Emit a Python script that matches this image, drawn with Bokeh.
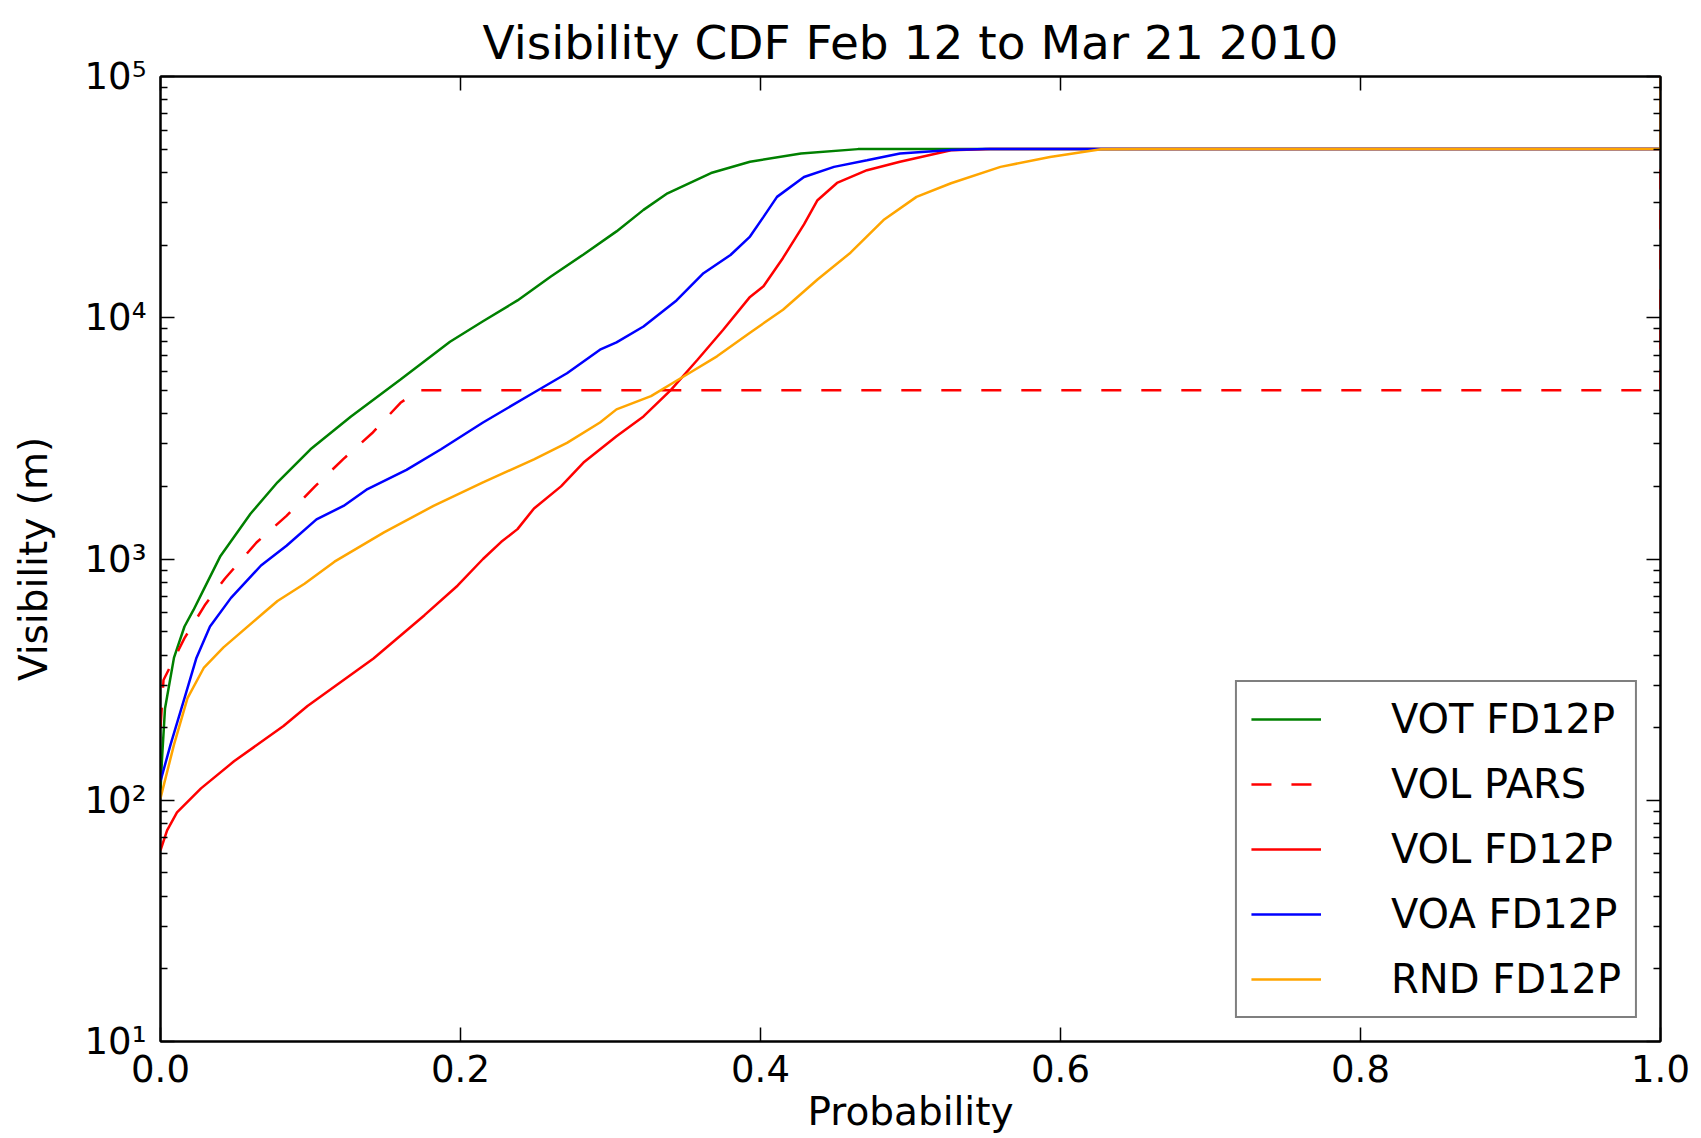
from bokeh.plotting import figure
from bokeh.models import (FixedTicker, LogAxis, LinearAxis, Legend, LegendItem,
                          Range1d, CustomJSTickFormatter, PrintfTickFormatter)
from bokeh.embed import file_html
from bokeh.resources import INLINE

# ---- data ----
title_text = "Visibility CDF Feb 12 to Mar 21 2010"

vot_x = [0.0, 0.001, 0.003, 0.009, 0.016, 0.022, 0.029, 0.040, 0.060, 0.078, 0.100, 0.127, 0.160,
         0.193, 0.215, 0.238, 0.260, 0.282, 0.304, 0.322, 0.338, 0.367, 0.393, 0.427, 0.465, 1.0, 1.0]
vot_y = [110, 148, 240, 390, 525, 615, 752, 1030, 1540, 2080, 2850, 3900, 5550,
         7950, 9670, 11800, 14800, 18300, 22800, 28000, 32800, 39800, 44300, 48000, 50000, 50000, 100000]

pars_x = [0.0, 0.002, 0.016, 0.030, 0.043, 0.064, 0.084, 0.103, 0.122, 0.141, 0.160, 0.172, 1.0, 1.0]
pars_y = [200, 315, 470, 650, 830, 1170, 1510, 2000, 2600, 3320, 4440, 5000, 5000, 50000]

vol_x = [0.0, 0.0044, 0.011, 0.027, 0.049, 0.082, 0.098, 0.142, 0.176, 0.198, 0.215, 0.227, 0.238,
         0.249, 0.267, 0.282, 0.304, 0.322, 0.340, 0.358, 0.375, 0.393, 0.402, 0.415, 0.429, 0.438,
         0.451, 0.471, 0.493, 0.527, 0.553, 1.0, 1.0]
vol_y = [62, 75, 89, 112, 145, 203, 246, 387, 585, 775, 1000, 1175, 1330,
         1620, 2000, 2510, 3230, 3900, 5000, 6700, 8900, 12200, 13500, 17700, 24400, 30700,
         36200, 40900, 44300, 49500, 50000, 50000, 100000]

voa_x = [0.0, 0.0067, 0.016, 0.024, 0.033, 0.047, 0.067, 0.084, 0.104, 0.122, 0.138, 0.164, 0.187,
         0.215, 0.249, 0.271, 0.293, 0.304, 0.322, 0.344, 0.362, 0.380, 0.393, 0.402, 0.411, 0.429,
         0.449, 0.471, 0.493, 0.527, 0.55, 1.0, 1.0]
voa_y = [120, 170, 265, 390, 525, 690, 940, 1135, 1460, 1660, 1950, 2340, 2850,
         3680, 4900, 5890, 7370, 7900, 9200, 11800, 15300, 18200, 21700, 26200, 31700, 38300,
         42200, 45000, 48000, 49600, 50000, 50000, 100000]

rnd_x = [0.0, 0.009, 0.018, 0.029, 0.042, 0.069, 0.078, 0.096, 0.116, 0.149, 0.182, 0.215, 0.249,
         0.271, 0.293, 0.304, 0.327, 0.349, 0.371, 0.393, 0.415, 0.438, 0.460, 0.482, 0.504, 0.527,
         0.560, 0.593, 0.627, 0.655, 1.0, 1.0]
rnd_y = [102, 170, 265, 355, 430, 600, 670, 790, 975, 1290, 1660, 2080, 2590,
         3030, 3680, 4170, 4730, 5720, 6920, 8670, 10800, 14400, 18600, 25400, 31700, 36100,
         42200, 46400, 49900, 50000, 50000, 100000]

x_ticks = [0.0, 0.2, 0.4, 0.6, 0.8, 1.0]
y_ticks = [10, 100, 1000, 10000, 100000]
y_tick_labels = ["10¹", "10²", "10³", "10⁴", "10⁵"]
y_minor = [m * d for d in [10, 100, 1000, 10000] for m in range(2, 10)]

FONT = "DejaVu Sans"

p = figure(width=1700, height=1136, y_axis_type="log",
           x_range=Range1d(0, 1), y_range=Range1d(10, 100000),
           output_backend="svg", toolbar_location=None, title=title_text)
p.min_border_left = 160
p.min_border_right = 40
p.min_border_top = 76
p.min_border_bottom = 93
p.xgrid.visible = False
p.ygrid.visible = False
p.outline_line_color = "black"
p.outline_line_width = 2
p.background_fill_color = "white"
p.border_fill_color = "white"

p.title.text_font = FONT
p.title.text_font_size = "47px"
p.title.text_font_style = "normal"
p.title.align = "center"
p.title.vertical_align = "top"
p.title.text_color = "black"
p.title.standoff = 10

def style_axis(ax):
    ax.axis_line_color = "black"
    ax.axis_line_width = 2
    ax.major_tick_in = 14
    ax.major_tick_out = 0
    ax.minor_tick_in = 7
    ax.minor_tick_out = 0
    ax.major_tick_line_width = 1.5
    ax.minor_tick_line_width = 1.5
    ax.major_label_text_font = FONT
    ax.major_label_text_font_size = "37px"
    ax.major_label_text_color = "black"
    ax.axis_label_text_font = FONT
    ax.axis_label_text_font_size = "39px"
    ax.axis_label_text_font_style = "normal"
    ax.axis_label_text_color = "black"

xa = p.xaxis[0]
style_axis(xa)
xa.ticker = FixedTicker(ticks=x_ticks)
xa.formatter = PrintfTickFormatter(format="%.1f")
xa.minor_tick_line_color = None
xa.axis_label = "Probability"
xa.major_label_standoff = 13
xa.axis_label_standoff = 4

ya = p.yaxis[0]
style_axis(ya)
ya.ticker = FixedTicker(ticks=y_ticks, minor_ticks=y_minor)
ya.major_label_overrides = {float(t): s for t, s in zip(y_ticks, y_tick_labels)}
ya.axis_label = "Visibility (m)"
ya.major_label_standoff = 14
ya.axis_label_standoff = 26

blank = CustomJSTickFormatter(code="return ''")
top = LinearAxis(ticker=FixedTicker(ticks=x_ticks), formatter=blank)
style_axis(top)
top.minor_tick_line_color = None
top.major_label_text_font_size = "1px"
top.major_label_standoff = 0
p.add_layout(top, "above")

right = LogAxis(ticker=FixedTicker(ticks=y_ticks, minor_ticks=y_minor), formatter=blank)
style_axis(right)
right.major_label_text_font_size = "1px"
right.major_label_standoff = 0
p.add_layout(right, "right")

LW = 2.5
r_vot = p.line(vot_x, vot_y, line_color="#008000", line_width=LW)
r_pars = p.line(pars_x, pars_y, line_color="#ff0000", line_width=LW, line_dash="20 20")
r_vol = p.line(vol_x, vol_y, line_color="#ff0000", line_width=LW)
r_voa = p.line(voa_x, voa_y, line_color="#0000ff", line_width=LW)
r_rnd = p.line(rnd_x, rnd_y, line_color="#ffa500", line_width=LW)

legend = Legend(items=[
    LegendItem(label="VOT FD12P", renderers=[r_vot]),
    LegendItem(label="VOL PARS", renderers=[r_pars]),
    LegendItem(label="VOL FD12P", renderers=[r_vol]),
    LegendItem(label="VOA FD12P", renderers=[r_voa]),
    LegendItem(label="RND FD12P", renderers=[r_rnd]),
], location="bottom_right")
legend.label_text_font = FONT
legend.label_text_font_size = "40px"
legend.label_text_color = "black"
legend.border_line_color = "black"
legend.border_line_width = 2.5
legend.glyph_width = 70
legend.glyph_height = 40
legend.label_height = 40
legend.spacing = 19
legend.padding = 14
legend.margin = 23
legend.label_standoff = 70
p.add_layout(legend)

open("out.html", "w").write(file_html(p, INLINE))
